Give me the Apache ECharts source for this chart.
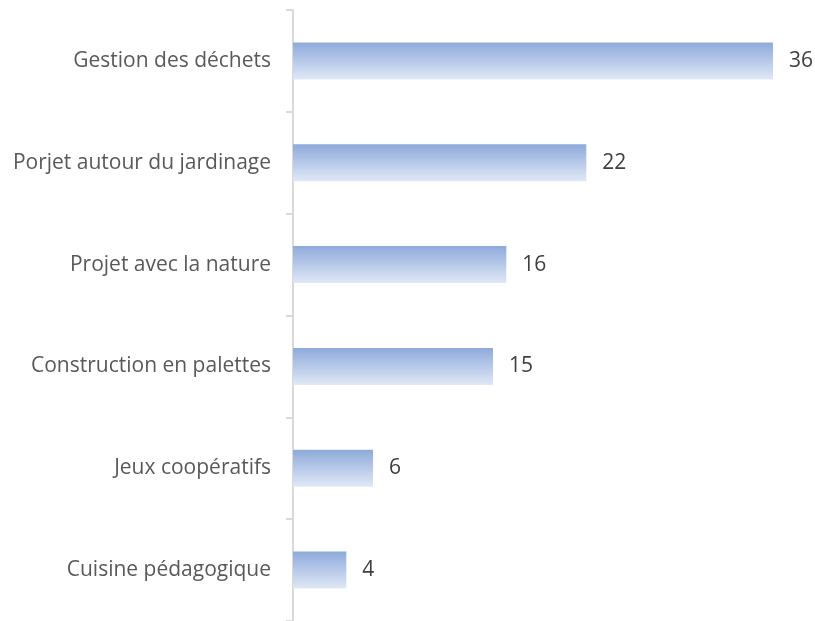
<!DOCTYPE html>
<html>
<head>
<meta charset="utf-8">
<script src="https://cdn.jsdelivr.net/npm/echarts@6/dist/echarts.min.js"></script>
<style>
  html, body { margin: 0; padding: 0; background: #fff; }
  #chart { width: 815px; height: 621px; }
</style>
</head>
<body>
<div id="chart"></div>
<script>
var categories = ['Gestion des déchets', 'Porjet autour du jardinage', 'Projet avec la nature', 'Construction en palettes', 'Jeux coopératifs', 'Cuisine pédagogique'];
var values = [36, 22, 16, 15, 6, 4];

var chart = echarts.init(document.getElementById('chart'), null, { renderer: 'canvas' });

var option = {
    animation: false,
    grid: {
        left: 293,
        top: 10,
        width: 480,
        height: 612
    },
    xAxis: {
        type: 'value',
        min: 0,
        max: 36,
        show: false
    },
    yAxis: {
        type: 'category',
        inverse: true,
        data: categories,
        axisLine: { show: true, lineStyle: { color: '#d9d9d9', width: 2 } },
        axisTick: { show: true, alignWithLabel: false, length: 7, lineStyle: { color: '#d9d9d9', width: 2 } },
        axisLabel: {
            margin: 22,
            color: '#595959',
            fontFamily: 'Open Sans',
            fontSize: 21,
            padding: [2, 0, 0, 0]
        }
    },
    series: [{
        type: 'bar',
        data: values,
        barWidth: 37,
        itemStyle: {
            color: new echarts.graphic.LinearGradient(0, 0, 0, 1, [
                { offset: 0, color: '#8eaadb' },
                { offset: 1, color: '#e0e8f6' }
            ])
        },
        label: {
            show: true,
            position: 'right',
            distance: 16,
            color: '#404040',
            fontFamily: 'Open Sans',
            fontSize: 21,
            padding: [2, 0, 0, 0]
        }
    }]
};

chart.setOption(option);
</script>
</body>
</html>
